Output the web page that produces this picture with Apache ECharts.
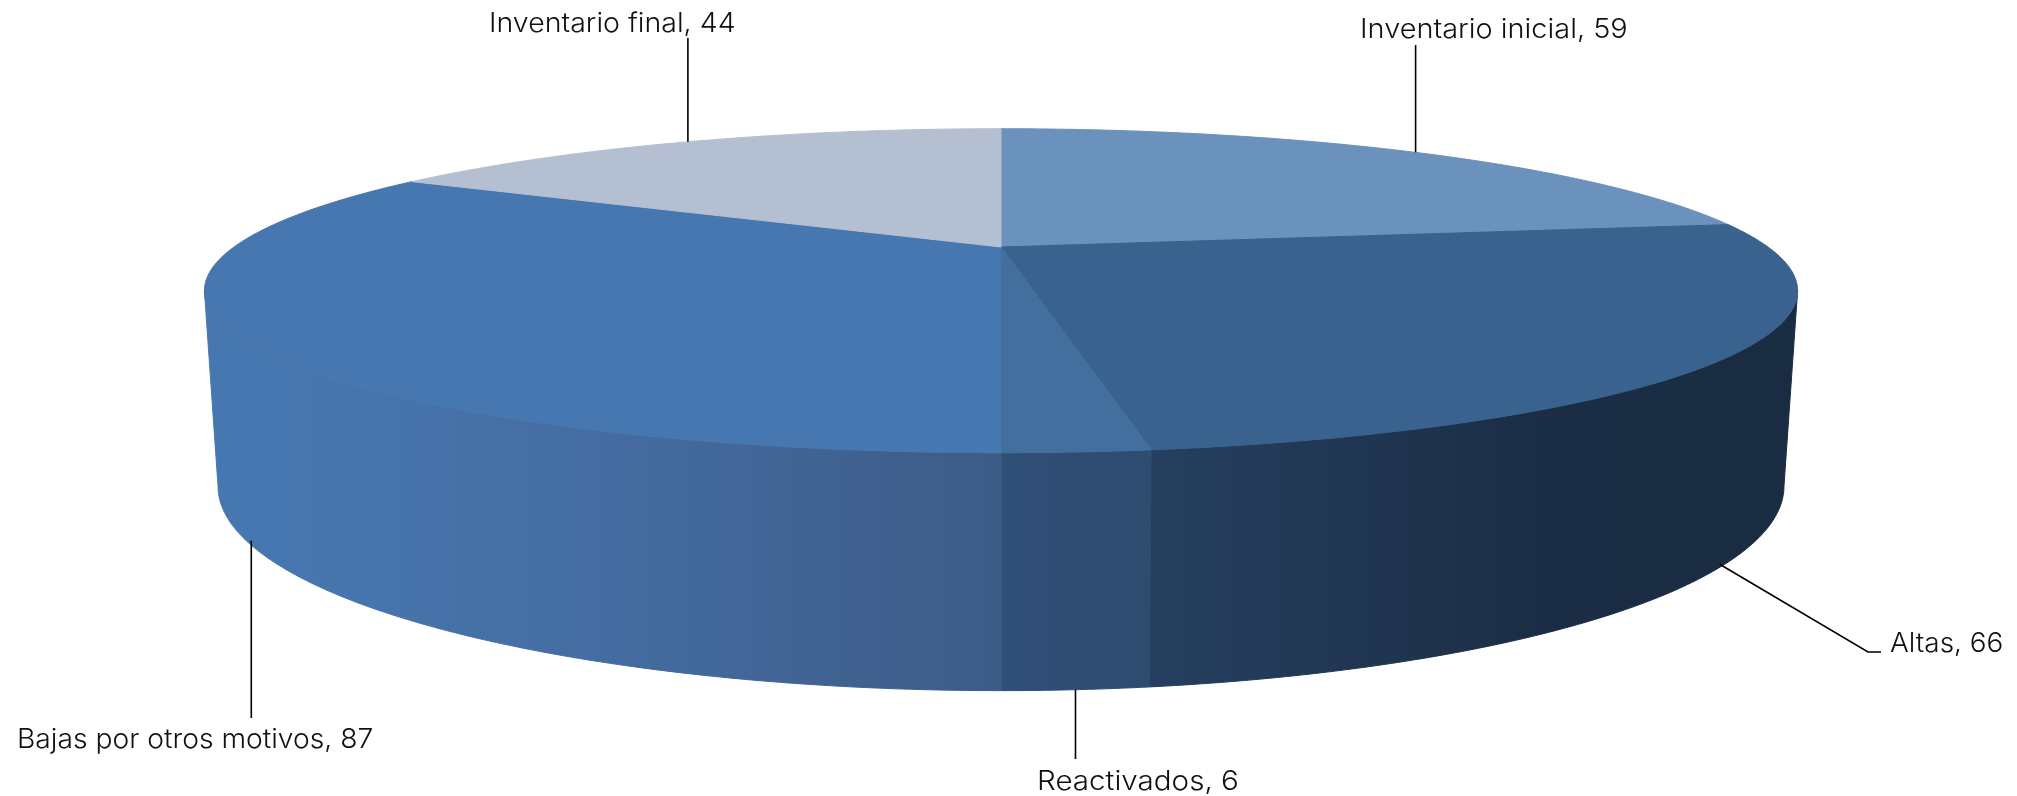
<!DOCTYPE html>
<html><head><meta charset="utf-8">
<style>html,body{margin:0;padding:0;background:#fff}#c{width:2017px;height:796px}</style>
<script src="https://cdn.jsdelivr.net/npm/echarts@6/dist/echarts.min.js"></script>
</head><body><div id="c"></div>
<script>
// ---- data ----
const categories = ['Inventario inicial', 'Altas', 'Reactivados', 'Bajas por otros motivos', 'Inventario final'];
const values = [59, 66, 6, 87, 44];

// ---- styles / layout ----
const topColors = ['#6b91bd', '#3a628f', '#436f9f', '#4777b0', '#b5bfd2'];
const wallStops = [
  null,
  [[1150, '#263f60'], [1550, '#1b2d44'], [1800, '#1a2c42']],
  [[1001, '#304f77'], [1150, '#2e4b70']],
  [[290, '#4777b0'], [620, '#446ca0'], [1001, '#3d5b87']],
  null
];
const topPlane = { cx: 1001, cy: 247, R: 767, B: 150.2, k: 0.27 };
const botPlane = { cx: 1001, cy: 430.3, R: 753, B: 189, k: 0.274 };
const FONT = 'Inter';
const labelLayout = [
  { plane: 'top', dx: 1, path: [[null, 45]], x: 1360, y: 30, sx: 1.071 },
  { plane: 'bot', dx: -5, path: [[1868, 652], [1881, 652]], x: 1890, y: 644, sx: 1.034 },
  { plane: 'bot', dx: 0, path: [[null, 759]], x: 1037, y: 782, sx: 1.096 },
  { plane: 'bot', dx: 5, path: [[null, 718]], x: 17, y: 740, sx: 1.046 },
  { plane: 'top', dx: 0, path: [[null, 38]], x: 489, y: 24, sx: 1.057 }
];

const total = values.reduce((a, b) => a + b, 0);
const starts = values.map((_, i) => values.slice(0, i).reduce((a, b) => a + b, 0) / total * 360);

// perspective projection of a point on the pie rim onto a horizontal plane
function project(deg, p, r) {
  const t = deg * Math.PI / 180, rr = r === undefined ? 1 : r;
  const u = Math.sin(t) * rr, v = -Math.cos(t) * rr, w = 1 - p.k * v;
  return [p.cx + p.R * u / w, p.cy + p.B * v / w];
}
function arc(a, b, p) {
  const n = Math.max(2, Math.ceil(Math.abs(b - a) * 2)), pts = [];
  for (let i = 0; i <= n; i++) pts.push(project(a + (b - a) * i / n, p));
  return pts;
}
function silhouette(p) { return Math.acos(-p.k) * 180 / Math.PI; }

function renderWall(params, api) {
  const i = params.dataIndex, a = starts[i], b = a + api.value(0) / total * 360;
  if (!wallStops[i]) return null;
  const st = silhouette(topPlane), sb = silhouette(botPlane);
  const pts = arc(Math.max(a, st), Math.min(b, 360 - st), topPlane)
    .concat(arc(Math.min(b, 360 - sb), Math.max(a, sb), botPlane));
  const s = wallStops[i], x0 = s[0][0], x1 = s[s.length - 1][0];
  const grad = { type: 'linear', x: x0, y: 0, x2: x1, y2: 0, global: true,
    colorStops: s.map(c => ({ offset: (c[0] - x0) / (x1 - x0), color: c[1] })) };
  return { type: 'polygon', shape: { points: pts }, style: { fill: grad, stroke: grad, lineWidth: 1 } };
}
function renderTop(params, api) {
  const i = params.dataIndex, a = starts[i], b = a + api.value(0) / total * 360;
  const pts = [project(0, topPlane, 0)].concat(arc(a, b, topPlane));
  return { type: 'polygon', shape: { points: pts }, style: { fill: topColors[i], stroke: topColors[i], lineWidth: 1 } };
}
function renderLabel(params, api) {
  const i = params.dataIndex, v = api.value(0), L = labelLayout[i];
  const mid = starts[i] + v / total * 180;
  const p0 = project(mid, L.plane === 'top' ? topPlane : botPlane);
  const anchor = [p0[0] + L.dx, p0[1]];
  const pts = [anchor].concat(L.path.map(q => [q[0] === null ? anchor[0] : q[0], q[1]]));
  return {
    type: 'group',
    children: [
      { type: 'polyline', shape: { points: pts }, style: { stroke: '#000', lineWidth: 1.6, fill: null } },
      { type: 'text', x: L.x, y: L.y, scaleX: L.sx, style: {
          text: categories[i] + ', ' + v, fill: '#111', font: '300 27px ' + FONT,
          textAlign: 'left', textVerticalAlign: 'middle' } }
    ]
  };
}
const base = { type: 'custom', coordinateSystem: 'none', data: values.map(v => [v]), encode: {}, animation: false, silent: true, clip: false };
const chart = echarts.init(document.getElementById('c'), null, { renderer: 'canvas' });
chart.setOption({
  animation: false,
  backgroundColor: '#fff',
  series: [
    Object.assign({}, base, { z: 1, renderItem: renderWall }),
    Object.assign({}, base, { z: 2, renderItem: renderTop }),
    Object.assign({}, base, { z: 3, renderItem: renderLabel })
  ]
});
</script></body></html>
